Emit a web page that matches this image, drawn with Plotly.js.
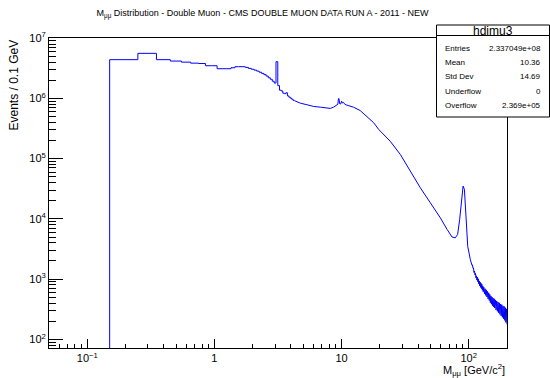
<!DOCTYPE html>
<html>
<head>
<meta charset="utf-8">
<script src="https://cdn.plot.ly/plotly-3.0.1.min.js"></script>
<style>html,body{margin:0;padding:0;background:#fff;}#chart{width:550px;height:378px;}</style>
</head>
<body>
<div id="chart"></div>
<script>
// ---- Data: low-mass bins (0.1 GeV wide), left edges and counts ----
const lowBinLeft = [0.05,0.15,0.25,0.35,0.45,0.55,0.65,0.75,0.85,0.95,
  1.05,1.15,1.25,1.35,1.45,1.55,1.65,1.75,1.85,1.95,
  2.05,2.15,2.25,2.35,2.45,2.55,2.65,2.75,2.85,2.95,
  3.05,3.15,3.25,3.35,3.45,3.55,3.65,3.75,3.85,3.95,
  4.05,4.15];
const lowBinRightEnd = 4.25;
const lowCounts = [0,4.4e6,5.6e6,4.4e6,4.17e6,4.0e6,3.85e6,3.8e6,3.49e6,3.49e6,
  3.11e6,3.11e6,3.11e6,3.23e6,3.36e6,3.36e6,3.36e6,3.27e6,3.15e6,3.05e6,
  2.95e6,2.84e6,2.72e6,2.6e6,2.48e6,2.35e6,2.2e6,2.08e6,1.93e6,1.8e6,
  4.07e6,1.63e6,1.37e6,1.33e6,1.22e6,1.2e6,1.24e6,1.1e6,1.05e6,1.01e6,
  9.7e5,9.3e5];

// ---- Data: higher mass (bins too narrow to resolve), read at points ----
const highMass = [4.25,4.73,5.34,6.02,6.8,7.67,8.15,8.65,9.19,9.35,9.45,9.55,9.65,9.85,10.0,10.15,10.35,10.6,
  11.0,12.4,14.0,15.8,17.9,19.6,22.0,24.1,29.0,34.7,41.6,49.9,59.8,67.5,73.9,78.4,81.8,84.9,88.1,90.3,92.5,94.8,98.2,103,106];
const highCounts = [9.2e5,8.35e5,7.85e5,7.36e5,7.16e5,6.9e5,6.82e5,7.16e5,7.74e5,8.0e5,9.9e5,9.9e5,8.2e5,8.1e5,9.0e5,8.4e5,8.6e5,8.0e5,
  7.74e5,7.16e5,6.3e5,5.08e5,3.94e5,3.05e5,2.4e5,1.95e5,1.17e5,6.2e4,3.29e4,1.85e4,1.04e4,6.7e3,5.0e3,4.85e3,5.5e3,9.8e3,2.38e4,3.5e4,3.1e4,1.1e4,3.5e3,2.1e3,1.7e3];

// ---- Data: fluctuating high-mass tail (bin-to-bin scatter) ----
const tailMass = [107,108,109,110,111,112,113,114,115,116,117,118,119,120,121,122,123,124,125,126,127,128,129,130,
  131.5,133,134.5,136,137.5,139,140.5,142,143.5,145,146.5,148,149.5,151,152.5,154,155.5,157,158.5,160,
  162,164,166,168,170,172,174,176,178,180,182,184,186,188,190,192,194,196,198,200];
const tailCounts = [1718,1514,1531,1288,1365,1175,1245,1047,1135,966,1072,902,1012,832,933,773,891,728,851,697,817,655,767,617,
  733,571,692,537,662,505,624,470,593,442,558,406,525,383,504,360,481,345,472,331,
  451,308,434,292,417,275,403,260,385,245,376,232,359,219,351,206,335,191,320,178];

// ---- Axis ticks / labels ----
const xTickVals = [0.1,1,10,100];
const xTickText = ["10<sup>\u22121</sup>","1","10","10<sup>2</sup>"];
const yTickVals = [1e2,1e3,1e4,1e5,1e6,1e7];
const yTickText = ["10<sup>2</sup>","10<sup>3</sup>","10<sup>4</sup>","10<sup>5</sup>","10<sup>6</sup>","10<sup>7</sup>"];

// ---- Stats box ----
const histName = "hdimu3";
const statLabels = ["Entries","Mean","Std Dev","Underflow","Overflow"];
const statValues = ["2.337049e+08","10.36","14.69","0","2.369e+05"];

const titleText = "M<sub>\u03bc\u03bc</sub> Distribution - Double Muon - CMS DOUBLE MUON DATA RUN A - 2011 - NEW";
const xTitle = "M<sub>\u03bc\u03bc</sub> [GeV/c<sup>2</sup>]";
const yTitle = "Events / 0.1 GeV";

// ---- Build ----
const W=550,H=378, L=49,R=507,T=38,B=348;
const px = x => (x-L)/(R-L);
const py = y => (B-y)/(B-T);
const FLOOR = 1e-3; // log axis cannot show zero; draw it below the frame
const lowX = lowBinLeft.concat([lowBinRightEnd]);
const lowY = lowCounts.map(v => v>0 ? v : FLOOR).concat([lowCounts[lowCounts.length-1]]);
const col = "#0000ff";

const traces = [
  {x: lowX, y: lowY, type:'scatter', mode:'lines', line:{color:col,width:1,shape:'hv'}, hoverinfo:'skip'},
  {x: highMass, y: highCounts, type:'scatter', mode:'lines', line:{color:col,width:1}, hoverinfo:'skip'},
  {x: [highMass[highMass.length-1]].concat(tailMass), y: [highCounts[highCounts.length-1]].concat(tailCounts), type:'scatter', mode:'lines', line:{color:col,width:1}, hoverinfo:'skip'}
];

function minorVals(lo, hi){
  const out=[];
  for(let e=lo;e<=hi;e++){for(let d=2;d<=9;d++){out.push(d*Math.pow(10,e));}}
  return out;
}

const font = "Liberation Sans, Arial, Helvetica, sans-serif";
const shapes = [
  {type:'rect', xref:'paper', yref:'paper', x0:px(436.5), x1:px(549.5), y0:py(117), y1:py(25), fillcolor:'#fff', line:{color:'#000',width:1}, layer:'above'},
  {type:'line', xref:'paper', yref:'paper', x0:px(436.5), x1:px(549.5), y0:py(35.5), y1:py(35.5), line:{color:'#000',width:1}, layer:'above'}
];
const annotations = [
  {xref:'paper', yref:'paper', x:px(493), y:py(30.5), text:histName, showarrow:false, xanchor:'center', yanchor:'middle', font:{family:font,size:12,color:'#000'}},
  {xref:'paper', yref:'paper', x:px(507), y:py(370), text:xTitle, showarrow:false, xanchor:'right', yanchor:'middle', font:{family:font,size:11,color:'#000'}},
  {xref:'paper', yref:'paper', x:px(13), y:py(38), text:yTitle, showarrow:false, textangle:-90, xanchor:'center', yanchor:'top', font:{family:font,size:12,color:'#000'}}
];
const rowY = [48.3,62.7,76.7,91,105];
statLabels.forEach((lab,i)=>{
  annotations.push({xref:'paper', yref:'paper', x:px(443), y:py(rowY[i]), text:lab, showarrow:false, xanchor:'left', yanchor:'middle', font:{family:font,size:8,color:'#000'}});
  annotations.push({xref:'paper', yref:'paper', x:px(543), y:py(rowY[i]), text:statValues[i], showarrow:false, xanchor:'right', yanchor:'middle', font:{family:font,size:8,color:'#000'}});
});

const layout = {
  width:W, height:H,
  margin:{l:L, r:W-R, t:T, b:H-B, pad:0},
  paper_bgcolor:'#fff', plot_bgcolor:'#fff',
  showlegend:false,
  title:{text:titleText, x:262.5/W, xanchor:'center', xref:'container', y:1-13/H, yanchor:'middle', yref:'container', font:{family:font,size:9,color:'#000'}},
  xaxis:{type:'log', range:[Math.log10(0.05), Math.log10(200)], tickmode:'array', tickvals:xTickVals, ticktext:xTickText,
    ticks:'inside', ticklen:9, tickwidth:1, tickcolor:'#000',
    minor:{tickmode:'array', tickvals:minorVals(-2,2), ticks:'inside', ticklen:4.5, tickwidth:1, tickcolor:'#000', showgrid:false},
    showline:true, mirror:true, linecolor:'#000', linewidth:1, showgrid:false, zeroline:false,
    tickfont:{family:font,size:11,color:'#000'}},
  yaxis:{type:'log', range:[1.856, 7.003], tickmode:'array', tickvals:yTickVals, ticktext:yTickText,
    ticks:'inside', ticklen:14, tickwidth:1, tickcolor:'#000',
    minor:{tickmode:'array', tickvals:minorVals(1,6), ticks:'inside', ticklen:7, tickwidth:1, tickcolor:'#000', showgrid:false},
    showline:true, mirror:true, linecolor:'#000', linewidth:1, showgrid:false, zeroline:false,
    tickfont:{family:font,size:11,color:'#000'}},
  shapes:shapes,
  annotations:annotations
};

Plotly.newPlot('chart', traces, layout, {staticPlot:true, displayModeBar:false});
</script>
</body>
</html>
